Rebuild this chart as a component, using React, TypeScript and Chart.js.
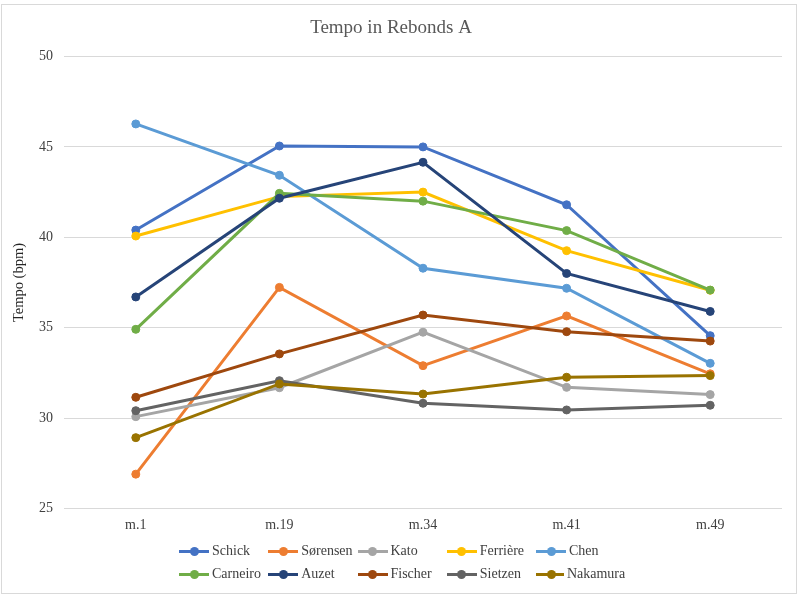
import React, { useEffect, useRef } from 'react'
import { Chart, registerables } from 'chart.js'

Chart.register(...registerables)

const categories = ['m.1', 'm.19', 'm.34', 'm.41', 'm.49']

const seriesNames = ['Schick', 'Sørensen', 'Kato', 'Ferrière', 'Chen', 'Carneiro', 'Auzet', 'Fischer', 'Sietzen', 'Nakamura']

const schick = [40.4, 45.05, 45.0, 41.8, 34.56]
const sorensen = [26.9, 37.23, 32.9, 35.65, 32.45]
const kato = [30.08, 31.68, 34.75, 31.7, 31.3]
const ferriere = [40.07, 42.25, 42.5, 39.26, 37.07]
const chen = [46.27, 43.43, 38.29, 37.18, 33.03]
const carneiro = [34.91, 42.43, 42.0, 40.37, 37.08]
const auzet = [36.7, 42.16, 44.15, 38.0, 35.9]
const fischer = [31.15, 33.55, 35.7, 34.78, 34.26]
const sietzen = [30.41, 32.07, 30.82, 30.45, 30.71]
const nakamura = [28.92, 31.89, 31.33, 32.26, 32.35]

const seriesValues = [schick, sorensen, kato, ferriere, chen, carneiro, auzet, fischer, sietzen, nakamura]

const seriesColors = ['#4472C4', '#ED7D31', '#A5A5A5', '#FFC000', '#5B9BD5', '#70AD47', '#264478', '#9E480E', '#636363', '#997300']

const yTicks = [25, 30, 35, 40, 45, 50]

const FONT = '"Liberation Serif", "Times New Roman", serif'
const TITLE = '#595959'
const TEXT = '#404040'

export default function App() {
  const canvasRef = useRef<HTMLCanvasElement>(null)

  useEffect(() => {
    if (!canvasRef.current) return
    const n = seriesNames.length
    const chart = new Chart(canvasRef.current, {
      type: 'line',
      data: {
        labels: categories,
        datasets: seriesNames.map((name, i) => ({
          label: name,
          data: seriesValues[i],
          borderColor: seriesColors[i],
          backgroundColor: seriesColors[i],
          pointBackgroundColor: seriesColors[i],
          pointBorderColor: seriesColors[i],
          borderWidth: 3,
          pointRadius: 4,
          pointBorderWidth: 1,
          tension: 0,
          order: n - i
        }))
      },
      options: {
        animation: false,
        responsive: false,
        layout: { padding: { left: 0, right: 18, top: 17, bottom: 60.5 } },
        plugins: {
          legend: { display: false },
          tooltip: { enabled: false },
          title: {
            display: true,
            text: 'Tempo in Rebonds A',
            color: TITLE,
            font: { family: FONT, size: 19, weight: 'normal' },
            padding: { top: 0, bottom: 16.7 }
          }
        },
        scales: {
          x: {
            offset: true,
            grid: { display: false, drawTicks: false },
            border: { display: false },
            ticks: { color: TEXT, font: { family: FONT, size: 14 }, padding: 8 },
            afterFit: (scale: any) => { scale.height = 30 }
          },
          y: {
            min: yTicks[0],
            max: yTicks[yTicks.length - 1],
            afterBuildTicks: (scale: any) => { scale.ticks = yTicks.map(v => ({ value: v })) },
            grid: { color: '#D9D9D9', lineWidth: 1, drawTicks: false },
            border: { display: false },
            ticks: { color: TEXT, font: { family: FONT, size: 14 }, padding: 11 },
            title: {
              display: true,
              text: 'Tempo (bpm)',
              color: '#262626',
              font: { family: FONT, size: 14.5 },
              padding: { top: 10, bottom: 0 }
            },
            afterFit: (scale: any) => { scale.width = 64 }
          }
        }
      }
    })
    return () => chart.destroy()
  }, [])

  return (
    <div style={{ position: 'fixed', left: 0, top: 0, width: 800, height: 599, background: '#fff', fontFamily: FONT }}>
      <div style={{ position: 'absolute', left: 1, top: 4, width: 794, height: 588, border: '1px solid #D9D9D9' }} />
      <canvas ref={canvasRef} width={800} height={599} style={{ position: 'absolute', left: 0, top: 0 }} />
      <div
        style={{
          position: 'absolute',
          left: 179,
          top: 541,
          display: 'grid',
          gridTemplateColumns: 'repeat(5, 89.25px)',
          rowGap: 3
        }}
      >
        {seriesNames.map((name, i) => (
          <div key={name} style={{ display: 'flex', alignItems: 'center', height: 20 }}>
            <span style={{ position: 'relative', width: 30, height: 3, background: seriesColors[i], marginRight: 3 }}>
              <span
                style={{
                  position: 'absolute',
                  left: 10.5,
                  top: -3,
                  width: 9,
                  height: 9,
                  borderRadius: '50%',
                  background: seriesColors[i]
                }}
              />
            </span>
            <span style={{ fontSize: 14, color: TEXT, whiteSpace: 'nowrap' }}>{name}</span>
          </div>
        ))}
      </div>
    </div>
  )
}
